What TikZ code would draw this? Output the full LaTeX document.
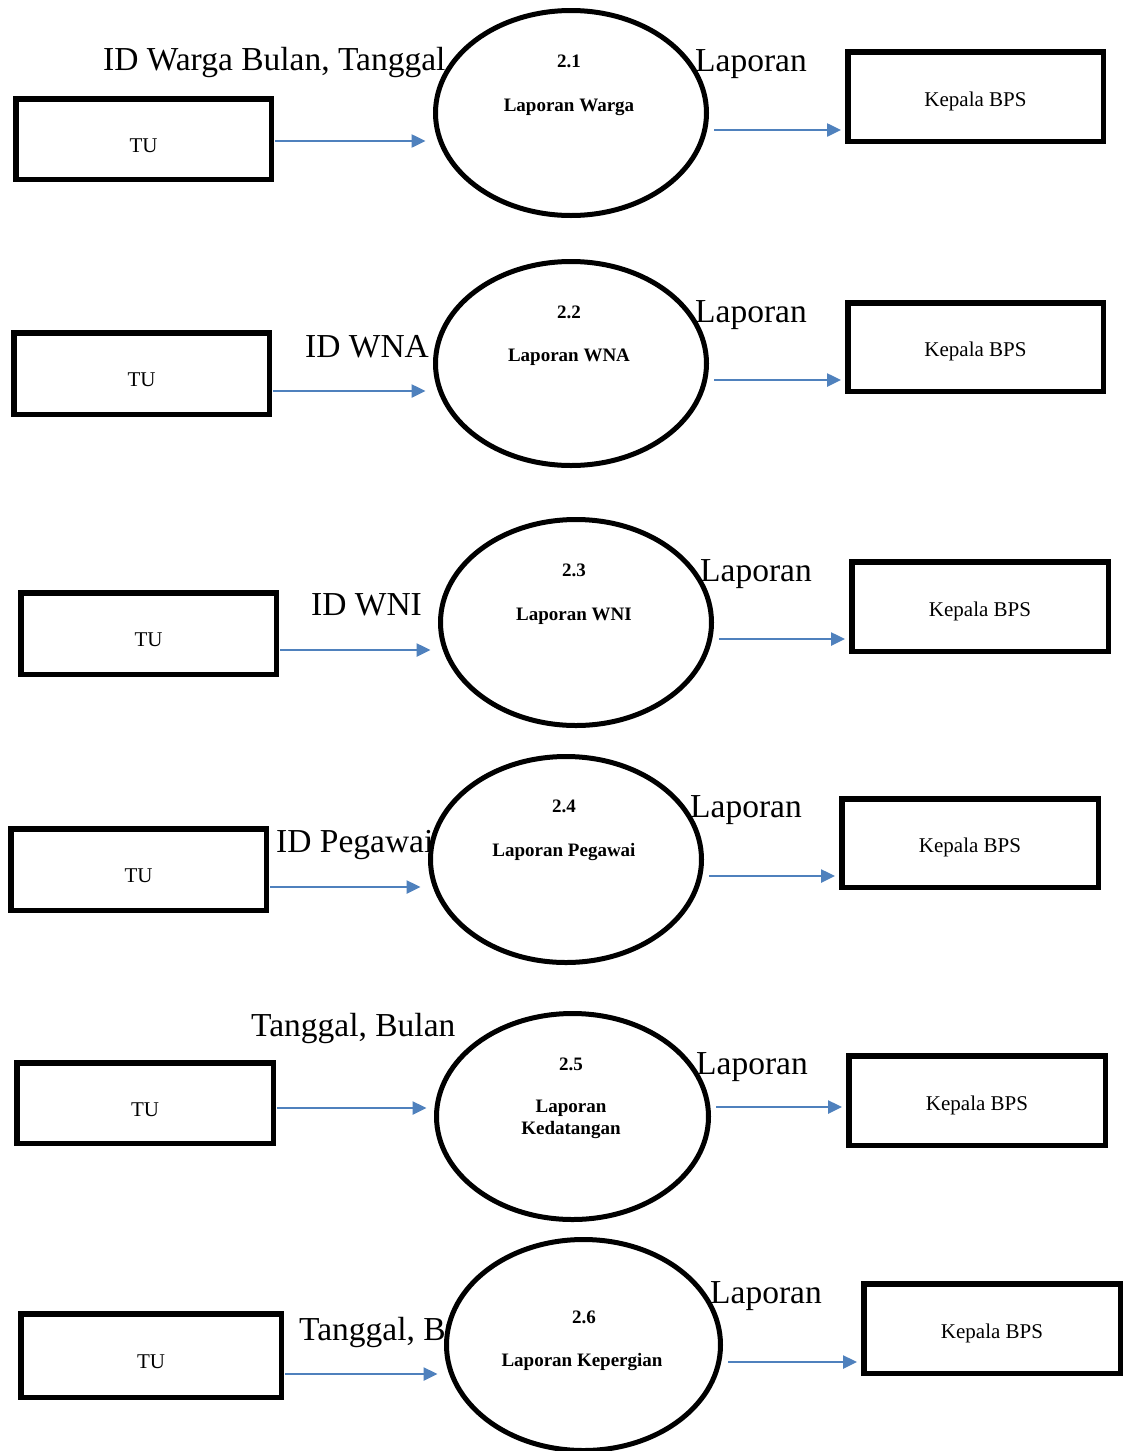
\documentclass[tikz,border=0pt]{standalone}
\usepackage{fontspec}
\setmainfont{Liberation Serif}
\usetikzlibrary{shapes.geometric,arrows.meta}
\definecolor{flowblue}{HTML}{4F81BD}
\tikzset{
  tubox/.style={draw, line width=5.5pt, minimum width=255.5pt, minimum height=80.5pt, inner sep=0pt, text height=26pt, text depth=0pt, font=\fontsize{21}{24}\selectfont},
  kbbox/.style={draw, line width=5.5pt, minimum width=255.5pt, minimum height=89.5pt, inner sep=0pt, text height=19pt, text depth=0pt, font=\fontsize{21}{24}\selectfont},
  proc/.style={draw, ellipse, line width=5pt, fill=white, minimum width=271pt, minimum height=205pt, inner sep=0pt},
  ptext/.style={anchor=base, inner sep=0pt, font=\bfseries\fontsize{19}{22}\selectfont},
  flabel/.style={anchor=base west, inner sep=0pt, font=\fontsize{33.5}{38}\selectfont},
  flow/.style={draw=flowblue, line width=2.5pt, -{Triangle[length=14pt,width=13pt]}}
}
\begin{document}
\begin{tikzpicture}[x=1pt,y=-1pt]
\useasboundingbox[fill=white] (0,0) rectangle (1123,1451);

% ---------- Row 1 ----------
\node[flabel] (l1) at (103,70) {ID Warga Bulan, Tanggal};
\node[tubox] (tu1) at (143.5,139) {TU};
\node[proc] (p1) at (571,113) {};
\node[kbbox] (kb1) at (975.5,96.5) {Kepala BPS};
\node[ptext] (n1) at (569,67) {2.1};
\node[ptext] (t1) at (569,111) {Laporan Warga};
\node[flabel] (o1) at (695,71) {Laporan};
\coordinate (a1) at (0,141);
\coordinate (b1) at (0,130);
\path[flow] ([xshift=1pt]tu1.east |- a1) -- ([xshift=-7.5pt]p1.west |- a1);
\path[flow] ([xshift=5pt]p1.east |- b1) -- ([xshift=-4pt]kb1.west |- b1);

% ---------- Row 2 ----------
\node[flabel] (l2) at (305,357) {ID WNA};
\node[tubox, minimum height=81.5pt] (tu2) at (141.5,373.5) {TU};
\node[proc, minimum height=204pt] (p2) at (571,363.5) {};
\node[kbbox, minimum height=88.5pt] (kb2) at (975.5,347) {Kepala BPS};
\node[ptext] (n2) at (569,318) {2.2};
\node[ptext] (t2) at (569,361) {Laporan WNA};
\node[flabel] (o2) at (695,322) {Laporan};
\coordinate (a2) at (0,391);
\coordinate (b2) at (0,380);
\path[flow] ([xshift=1pt]tu2.east |- a2) -- ([xshift=-7.5pt]p2.west |- a2);
\path[flow] ([xshift=5pt]p2.east |- b2) -- ([xshift=-4pt]kb2.west |- b2);

% ---------- Row 3 ----------
\node[flabel] (l3) at (311,615) {ID WNI};
\node[tubox, minimum height=81.5pt] (tu3) at (148.5,633.5) {TU};
\node[proc, minimum height=206pt] (p3) at (576,622.5) {};
\node[kbbox, minimum width=256.5pt] (kb3) at (980,606.5) {Kepala BPS};
\node[ptext] (n3) at (574,576) {2.3};
\node[ptext] (t3) at (574,620) {Laporan WNI};
\node[flabel] (o3) at (700,581) {Laporan};
\coordinate (a3) at (0,650);
\coordinate (b3) at (0,639);
\path[flow] ([xshift=1pt]tu3.east |- a3) -- ([xshift=-7.5pt]p3.west |- a3);
\path[flow] ([xshift=5pt]p3.east |- b3) -- ([xshift=-4pt]kb3.west |- b3);

% ---------- Row 4 ----------
\node[flabel] (l4) at (276,852) {ID Pegawai};
\node[tubox, minimum height=81.5pt] (tu4) at (138.5,869.5) {TU};
\node[proc, minimum height=206pt] (p4) at (566,859.5) {};
\node[kbbox, minimum width=256.5pt, minimum height=88.5pt] (kb4) at (970,843) {Kepala BPS};
\node[ptext] (n4) at (564,812) {2.4};
\node[ptext] (t4) at (564,856) {Laporan Pegawai};
\node[flabel] (o4) at (690,817) {Laporan};
\coordinate (a4) at (0,887);
\coordinate (b4) at (0,876);
\path[flow] ([xshift=1pt]tu4.east |- a4) -- ([xshift=-7.5pt]p4.west |- a4);
\path[flow] ([xshift=5pt]p4.east |- b4) -- ([xshift=-4pt]kb4.west |- b4);

% ---------- Row 5 ----------
\node[flabel] (l5) at (251,1036) {Tanggal, Bulan};
\node[tubox, minimum width=256.5pt] (tu5) at (145,1103) {TU};
\node[proc, minimum width=272pt, minimum height=206pt] (p5) at (572.5,1116.5) {};
\node[kbbox, minimum width=256.5pt] (kb5) at (977,1100.5) {Kepala BPS};
\node[ptext] (n5) at (571,1070) {2.5};
\node[ptext] (t5) at (571,1112) {Laporan};
\node[ptext] (u5) at (571,1134) {Kedatangan};
\node[flabel] (o5) at (696,1074) {Laporan};
\coordinate (a5) at (0,1108);
\coordinate (b5) at (0,1107);
\path[flow] ([xshift=1pt]tu5.east |- a5) -- ([xshift=-7.5pt]p5.west |- a5);
\path[flow] ([xshift=5pt]p5.east |- b5) -- ([xshift=-4pt]kb5.west |- b5);

% ---------- Row 6 ----------
\node[flabel] (l6) at (299,1340) {Tanggal, Bulan};
\node[tubox, minimum width=260.5pt, minimum height=83.5pt] (tu6) at (151,1355.5) {TU};
\node[proc, minimum width=274pt, minimum height=211pt] (p6) at (583.5,1345) {};
\node[kbbox, minimum width=256.5pt] (kb6) at (992,1328.5) {Kepala BPS};
\node[ptext] (n6) at (584,1323) {2.6};
\node[ptext] (t6) at (582,1366) {Laporan Kepergian};
\node[flabel] (o6) at (710,1303) {Laporan};
\coordinate (a6) at (0,1374);
\coordinate (b6) at (0,1362);
\path[flow] ([xshift=1pt]tu6.east |- a6) -- ([xshift=-6.5pt]p6.west |- a6);
\path[flow] ([xshift=5pt]p6.east |- b6) -- ([xshift=-4pt]kb6.west |- b6);
\end{tikzpicture}
\end{document}
